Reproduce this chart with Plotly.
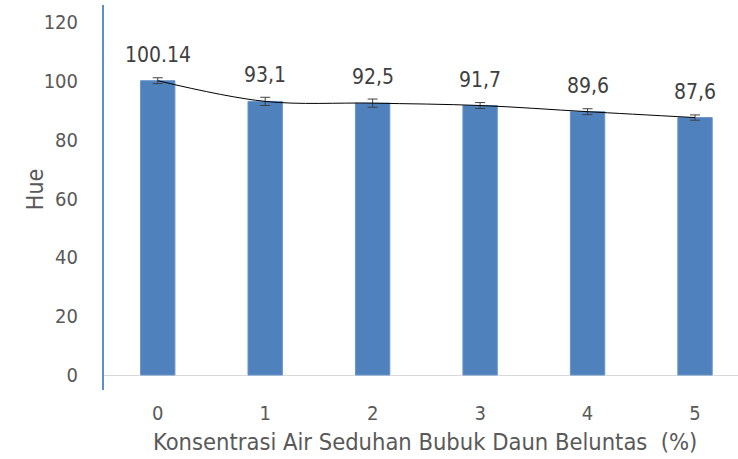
import plotly.graph_objects as go

categories = ["0", "1", "2", "3", "4", "5"]
hue_values = [100.14, 93.1, 92.5, 91.7, 89.6, 87.6]
hue_errors = [1.0, 1.4, 1.4, 1.0, 1.0, 0.9]
value_labels = ["100.14", "93,1", "92,5", "91,7", "89,6", "87,6"]
y_ticks = [0, 20, 40, 60, 80, 100, 120]
x_title = "Konsentrasi Air Seduhan Bubuk Daun Beluntas  (%)"
y_title = "Hue"

FONT = "DejaVu Sans Condensed, Liberation Sans Narrow, Liberation Sans, sans-serif"
GRAY = "#595959"

fig = go.Figure()
fig.add_trace(go.Bar(
    x=categories, y=hue_values, width=0.32,
    marker=dict(color="#4f81bd", line=dict(color="#6a94c8", width=1)),
    error_y=dict(type="data", array=hue_errors, color="#404040", thickness=1, width=5),
    showlegend=False, hoverinfo="skip",
))
fig.add_trace(go.Scatter(
    x=categories, y=hue_values, mode="lines",
    line=dict(color="#000000", width=1, shape="spline", smoothing=1.0),
    showlegend=False, hoverinfo="skip",
))
for c, v, t in zip(categories, hue_values, value_labels):
    fig.add_annotation(x=c, y=v, text=t, showarrow=False, yshift=26, yanchor="middle",
                       font=dict(size=21, color="#404040", family=FONT))

fig.add_annotation(xref="paper", yref="paper", x=0.506, y=0, yshift=-52,
                   xanchor="center", yanchor="middle", showarrow=False,
                   text=x_title, font=dict(size=23.5, color=GRAY, family=FONT))
fig.add_annotation(xref="paper", yref="paper", x=0, y=0.519, xshift=-69,
                   xanchor="center", yanchor="middle", showarrow=False, textangle=-90,
                   text=y_title, font=dict(size=23, color=GRAY, family=FONT))

fig.update_layout(
    width=738, height=459,
    margin=dict(l=104, r=0, t=5, b=69, autoexpand=False),
    paper_bgcolor="white", plot_bgcolor="white",
    font=dict(family=FONT, color=GRAY),
)
fig.update_xaxes(
    type="category", range=[-0.5, 5.4], automargin=False,
    showgrid=False, showline=False, zeroline=False,
    ticks="outside", ticklen=5, tickcolor="rgba(0,0,0,0)",
    tickfont=dict(size=20, color=GRAY, family=FONT),
)
fig.update_yaxes(
    range=[-5.1, 125.9], tickvals=y_ticks, automargin=False,
    showgrid=False, zeroline=True, zerolinecolor="#d9d9d9", zerolinewidth=1,
    showline=True, linecolor="#5b8fd0", linewidth=2,
    ticks="outside", ticklen=20, tickcolor="rgba(0,0,0,0)",
    tickfont=dict(size=20, color=GRAY, family=FONT),
)

fig.write_html("out.html", config={"displayModeBar": False},
               post_script="document.body.style.margin='0';document.body.style.overflow='hidden';")
